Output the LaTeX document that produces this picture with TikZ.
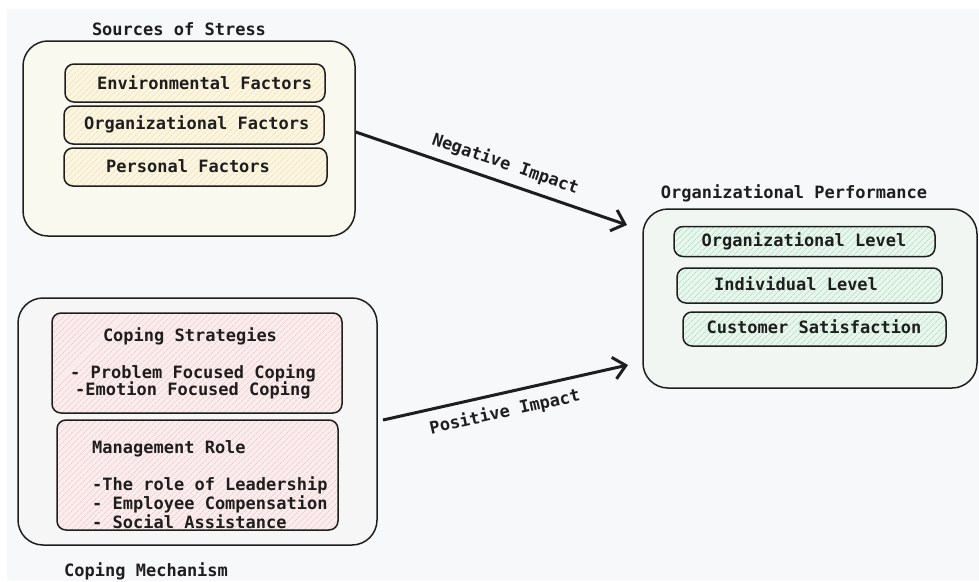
\documentclass[tikz,border=0pt]{standalone}
\usepackage{fontspec}
\setmonofont{DejaVu Sans Mono}
\usetikzlibrary{patterns.meta,arrows.meta}
\definecolor{bg}{HTML}{F7F8FA}
\definecolor{creamfill}{HTML}{FAF9F0}
\definecolor{grayfill}{HTML}{F6F6F6}
\definecolor{greenfill}{HTML}{F1F6F3}
\definecolor{ybase}{HTML}{FBF5E2}
\definecolor{yline}{HTML}{F0E2B4}
\definecolor{pbase}{HTML}{FBEDED}
\definecolor{pline}{HTML}{F0CDCD}
\definecolor{gbase}{HTML}{E9F6EE}
\definecolor{gline}{HTML}{B2E0C2}
\definecolor{ink}{HTML}{1E1E1E}
\tikzset{
  txt/.style={font=\ttfamily\bfseries\fontsize{17}{20}\selectfont, text=ink, inner sep=0pt},
  outer/.style={draw=ink, line width=1.5pt, rounded corners=25pt, inner sep=0pt},
  inner/.style={draw=ink, line width=1.5pt, rounded corners=9pt, inner sep=0pt},
  ybox/.style={inner, preaction={fill=ybase}, pattern={Lines[angle=45,distance=4pt,line width=0.7pt]}, pattern color=yline},
  pbox/.style={inner, preaction={fill=pbase}, pattern={Lines[angle=45,distance=4pt,line width=0.7pt]}, pattern color=pline},
  gbox/.style={inner, preaction={fill=gbase}, pattern={Lines[angle=45,distance=4pt,line width=0.7pt]}, pattern color=gline},
  arr/.style={draw=ink, line width=3pt, -{Straight Barb[length=12pt,width=22pt,line width=3pt]}},
}
\begin{document}
\begin{tikzpicture}[x=1pt,y=-1pt]
\useasboundingbox (0,0) rectangle (979,581);
\fill[bg] (7,9) rectangle (979,581);

% Sources of Stress
\node[txt] (t-sources) at (179,29) {Sources of Stress};
\node[outer, fill=creamfill, minimum width=332pt, minimum height=195pt] (sources) at (189,138.5) {};
\node[ybox, minimum width=260pt, minimum height=38pt] (env) at (195,83) {};
\node[txt, anchor=west] (t-env) at (97,83) {Environmental Factors};
\node[ybox, minimum width=260pt, minimum height=38pt] (org) at (194,125) {};
\node[txt, anchor=west] (t-org) at (84,124) {Organizational Factors};
\node[ybox, minimum width=263pt, minimum height=38pt] (pers) at (195.5,167) {};
\node[txt, anchor=west] (t-pers) at (106,166) {Personal Factors};

% Coping Mechanism
\node[outer, fill=grayfill, minimum width=359pt, minimum height=247pt] (coping) at (197.5,421.5) {};
\node[pbox, minimum width=290pt, minimum height=100pt] (strat) at (197,363) {};
\node[txt] (t-strat) at (190,336) {Coping Strategies};
\node[txt, anchor=west] (t-strat1) at (70,373) {- Problem Focused Coping};
\node[txt, anchor=west] (t-strat2) at (75,390) {-Emotion Focused Coping};
\node[pbox, minimum width=281pt, minimum height=110pt] (mgmt) at (197.5,475) {};
\node[txt, anchor=west] (t-mgmt) at (92,449) {Management Role};
\node[txt, anchor=west] (t-mgmt1) at (92,485) {-The role of Leadership};
\node[txt, anchor=west] (t-mgmt2) at (92,504) {- Employee Compensation};
\node[txt, anchor=west] (t-mgmt3) at (92,522) {- Social Assistance};
\node[txt, anchor=west] (t-coping) at (64,571) {Coping Mechanism};

% Organizational Performance
\node[txt] (t-perf) at (794,193) {Organizational Performance};
\node[outer, fill=greenfill, minimum width=334pt, minimum height=179pt] (perf) at (810,298.5) {};
\node[gbox, minimum width=261pt, minimum height=30pt] (olev) at (804.5,241.5) {};
\node[txt] (t-olev) at (804,241) {Organizational Level};
\node[gbox, minimum width=265pt, minimum height=35pt] (ilev) at (809.5,285.5) {};
\node[txt, anchor=west] (t-ilev) at (714,284) {Individual Level};
\node[gbox, minimum width=263pt, minimum height=34pt] (cust) at (814.5,329) {};
\node[txt] (t-cust) at (814,327) {Customer Satisfaction};

% Connectors
\coordinate (n1) at (sources.east |- 0,132);
\coordinate (n2) at (627,225);
\draw[arr] (n1) -- node[txt, sloped, above=8pt, pos=0.53] (l-neg) {Negative Impact} (n2);
\coordinate (p1) at (383,420);
\coordinate (p2) at (628,365);
\draw[arr] (p1) -- node[txt, sloped, below=9pt, pos=0.48] (l-pos) {Positive Impact} (p2);
\end{tikzpicture}
\end{document}
